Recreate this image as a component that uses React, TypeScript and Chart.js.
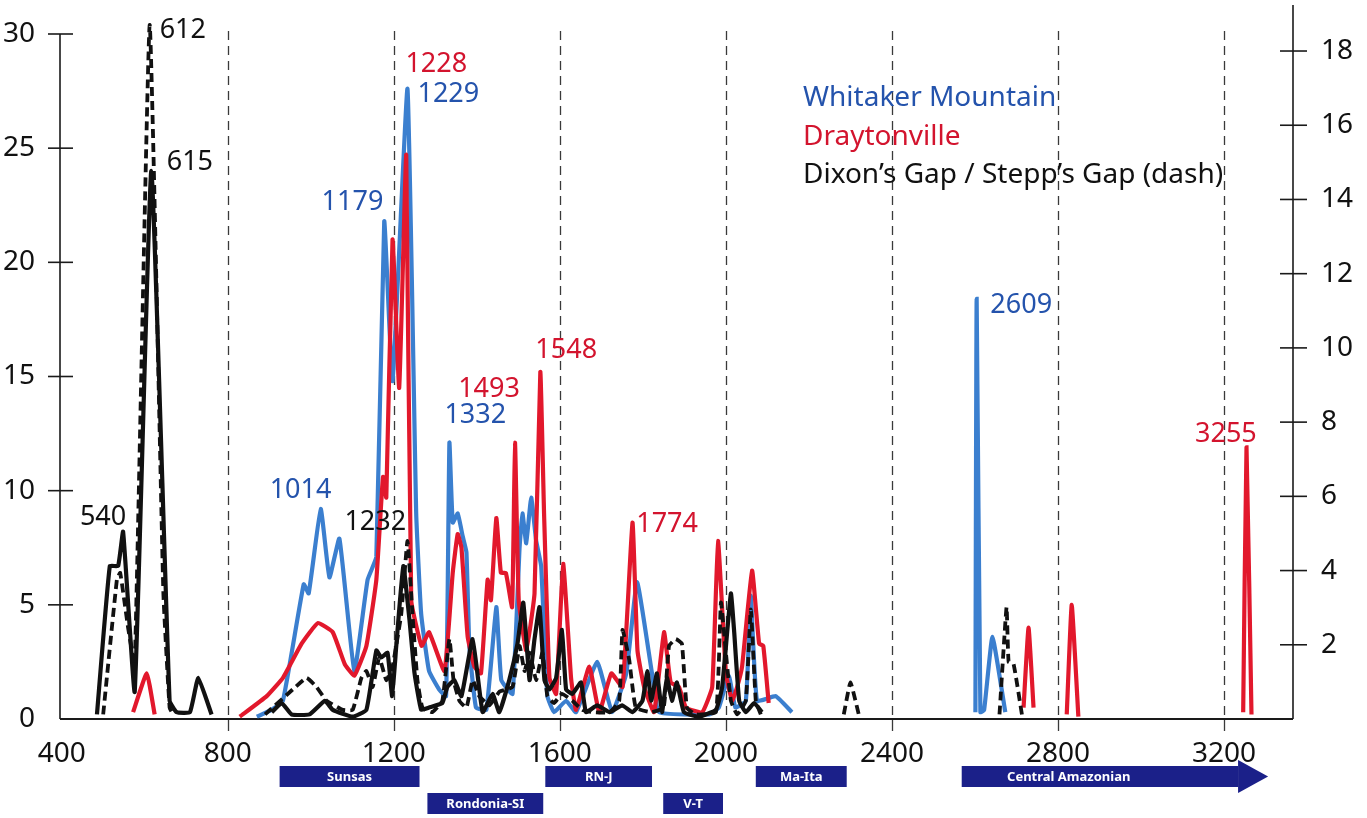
import React, { useEffect, useRef } from "react";
import { Chart, registerables } from "chart.js";

Chart.register(...registerables);

const FONT = '"Noto Sans", "Open Sans", sans-serif';

// ---- axis ticks ----
const xTicks = [400, 800, 1200, 1600, 2000, 2400, 2800, 3200];
const gridAges = [800, 1200, 1600, 2000, 2400, 2800, 3200];
const leftTicks = [0, 5, 10, 15, 20, 25, 30];
const rightTicks = [2, 4, 6, 8, 10, 12, 14, 16, 18];

// ---- series (age Ma, relative probability on left axis); null = break ----
const whitakerAge = [870, 905, 933, 983, 995, 1024, 1045, 1069, 1105, 1137, 1158, 1177, 1197, 1233, 1254, 1266, 1285, 1309, 1326, 1334, 1342, 1354, 1366, 1375, 1382, 1398, 1423, 1447, 1459, 1486, 1503, 1510, 1519, 1531, 1543, 1555, 1570, 1586, 1615, 1639, 1690, 1726, 1760, 1786, 1822, 1839, 1960, 1983, 2007, 2023, 2048, 2060, 2075, 2120, 2159, 2400, 2601, 2604, 2613, 2622, 2642, 2673];
const whitakerProb = [0.1, 0.4, 0.8, 5.9, 5.5, 9.2, 6.2, 7.9, 2.1, 6.1, 7.1, 21.8, 14.8, 27.6, 9.0, 4.6, 2.1, 1.3, 1.0, 12.1, 8.6, 9.0, 8.0, 7.3, 3.2, 0.5, 0.4, 4.9, 1.7, 1.1, 7.5, 9.0, 7.7, 9.7, 7.8, 6.7, 1.0, 0.3, 0.8, 0.3, 2.5, 0.3, 2.0, 6.0, 2.0, 0.3, 0.2, 0.5, 1.9, 0.5, 0.8, 5.4, 0.8, 1.0, 0.3, null, 0.3, 18.4, 0.3, 0.4, 3.6, 0.3];

const draytonAge = [572, 605, 624, 700, 829, 894, 933, 978, 1017, 1053, 1082, 1105, 1134, 1158, 1174, 1182, 1197, 1213, 1230, 1242, 1267, 1285, 1322, 1342, 1354, 1363, 1378, 1394, 1410, 1426, 1434, 1447, 1458, 1470, 1485, 1492, 1501, 1519, 1539, 1553, 1562, 1575, 1591, 1608, 1627, 1639, 1671, 1695, 1724, 1751, 1775, 1787, 1803, 1827, 1851, 1867, 1887, 1904, 1943, 1967, 1981, 2000, 2015, 2027, 2039, 2063, 2080, 2090, 2103, 2400, 2717, 2729, 2741, 2780, 2821, 2833, 2849, 3000, 3246, 3254, 3266];
const draytonProb = [0.3, 2.0, 0.2, null, 0.1, 1.0, 1.8, 3.3, 4.2, 3.8, 2.4, 1.9, 3.2, 6.1, 10.6, 9.7, 21.0, 14.5, 24.7, 5.2, 3.2, 3.8, 2.1, 6.4, 8.1, 7.5, 3.6, 2.3, 2.0, 6.1, 5.2, 8.8, 6.4, 6.4, 4.9, 12.1, 5.2, 3.0, 5.5, 15.2, 9.0, 1.8, 1.1, 6.8, 1.8, 0.4, 2.3, 0.3, 2.0, 1.4, 8.6, 3.0, 1.4, 0.3, 3.8, 1.6, 1.4, 0.5, 0.3, 1.4, 7.8, 2.0, 0.8, 1.4, 2.3, 6.5, 3.3, 3.2, 0.7, null, 0.5, 4.0, 0.5, null, 0.2, 5.0, 0.1, null, 0.3, 11.9, 0.2];

const dixonAge = [485, 516, 536, 548, 576, 616, 660, 677, 709, 729, 761, 830, 906, 930, 954, 997, 1034, 1053, 1101, 1134, 1158, 1170, 1185, 1196, 1206, 1223, 1238, 1250, 1266, 1285, 1317, 1329, 1346, 1363, 1390, 1414, 1438, 1454, 1478, 1498, 1512, 1527, 1539, 1551, 1563, 1575, 1591, 1605, 1615, 1630, 1651, 1663, 1690, 1720, 1750, 1775, 1799, 1811, 1820, 1834, 1846, 1858, 1870, 1882, 1899, 1935, 1976, 1991, 2012, 2020, 2032, 2048, 2068, 2087];
const dixonProb = [0.2, 6.7, 6.7, 8.2, 1.2, 24.0, 0.8, 0.3, 0.3, 1.8, 0.2, null, 0.3, 0.7, 0.2, 0.2, 0.8, 0.4, 0.1, 0.4, 3.0, 2.7, 2.9, 1.0, 3.2, 6.7, 4.3, 2.0, 0.4, 0.5, 0.7, 1.4, 1.7, 1.0, 3.5, 0.3, 1.1, 0.3, 1.7, 3.3, 5.1, 1.7, 3.5, 4.9, 1.7, 1.3, 1.8, 3.9, 1.3, 1.1, 1.6, 0.3, 0.6, 0.3, 0.6, 0.3, 0.8, 2.1, 0.8, 2.0, 0.3, 1.8, 0.8, 1.6, 0.3, 0.1, 0.4, 1.4, 5.5, 3.8, 0.8, 0.3, 0.7, 0.3];

const steppAge = [500, 533, 541, 560, 576, 612, 645, 660, 668, 780, 890, 957, 990, 1014, 1038, 1077, 1101, 1122, 1134, 1149, 1165, 1182, 1197, 1218, 1233, 1245, 1257, 1269, 1293, 1317, 1334, 1344, 1358, 1375, 1390, 1406, 1430, 1455, 1486, 1503, 1515, 1527, 1543, 1558, 1570, 1586, 1605, 1630, 1654, 1678, 1720, 1743, 1751, 1767, 1783, 1820, 1850, 1863, 1879, 1894, 1906, 1927, 1976, 1988, 2000, 2012, 2027, 2048, 2060, 2072, 2084, 2200, 2284, 2300, 2320, 2500, 2659, 2676, 2681, 2693, 2713];
const steppProb = [0.2, 6.1, 6.4, 4.0, 2.4, 30.4, 5.5, 0.5, 0.2, null, 0.2, 1.3, 1.8, 1.4, 0.8, 0.4, 0.4, 1.8, 2.1, 1.4, 2.7, 1.7, 2.3, 4.6, 7.8, 4.6, 1.7, 0.5, 0.3, 0.8, 3.5, 1.7, 0.8, 0.5, 1.7, 1.0, 0.6, 1.2, 1.4, 3.2, 2.1, 2.9, 1.7, 2.9, 1.0, 0.7, 1.1, 0.8, 0.4, 0.3, 0.3, 0.8, 3.9, 2.6, 0.5, 0.3, 0.5, 3.2, 3.5, 3.3, 0.5, 0.2, 0.3, 5.1, 2.9, 0.8, 0.2, 0.8, 4.8, 0.8, 0.2, null, 0.2, 1.6, 0.2, null, 0.2, 4.9, 2.5, 2.4, 0.2];

// ---- peak labels (text, anchor age, anchor probability, series) ----
const peakText = ["612", "615", "540", "1014", "1232", "1179", "1228", "1229", "1332", "1493", "1548", "1774", "2609", "3255"];
const peakAge = [636, 653, 444, 901, 1081, 1026, 1228, 1257, 1322, 1355, 1541, 1784, 2637, 3130];
const peakProb = [29.83, 24.05, 8.5, 9.68, 8.28, 22.3, 28.34, 27.03, 12.97, 14.1, 15.81, 8.19, 17.78, 12.13];
const peakSeries = ["k", "k", "k", "b", "k", "b", "r", "b", "b", "r", "r", "r", "b", "r"];

// ---- legend ----
const legendNames = ["Whitaker Mountain", "Draytonville", "Dixon\u2019s Gap / Stepp\u2019s Gap (dash)"];
const legendSeries = ["b", "r", "k"];

// ---- orogenic provinces ----
const provinceNames = ["Sunsas", "Rondonia-SI", "RN-J", "V-T", "Ma-Ita", "Central Amazonian"];
const provinceStart = [925, 1281, 1565, 1849, 2072, 2568];
const provinceEnd = [1262, 1560, 1822, 1993, 2291, 3306];
const provinceRow = [0, 1, 0, 1, 0, 0];
const provinceArrow = [false, false, false, false, false, true];

const LINE = { b: "#3b7fcf", r: "#e2182c", k: "#111111" };
const TEXT = { b: "#2453ac", r: "#d3142e", k: "#111111" };
const NAVY = "#1b2089";

const toPoints = (ages: number[], probs: (number | null)[]) =>
  ages.map((a, i) => ({ x: a, y: probs[i] }));

const decorPlugin = {
  id: "decor",
  beforeDatasetsDraw(chart: any) {
    const { ctx, chartArea, scales } = chart;
    const xs = scales.x;
    const yl = scales.y;
    const { left, right, top, bottom } = chartArea;
    ctx.save();
    ctx.strokeStyle = "#3a3a3a";
    ctx.lineWidth = 1.3;
    for (const g of gridAges) {
      const px = Math.round(xs.getPixelForValue(g)) + 0.5;
      ctx.setLineDash([9, 6]);
      ctx.beginPath();
      ctx.moveTo(px, top + 26);
      ctx.lineTo(px, bottom);
      ctx.stroke();
      ctx.setLineDash([]);
      ctx.beginPath();
      ctx.moveTo(px, bottom);
      ctx.lineTo(px, bottom + 12);
      ctx.stroke();
    }
    ctx.setLineDash([]);
    ctx.strokeStyle = "#1a1a1a";
    ctx.lineWidth = 1.6;
    ctx.beginPath();
    ctx.moveTo(left, yl.getPixelForValue(30));
    ctx.lineTo(left, bottom);
    ctx.stroke();
    for (const t of leftTicks) {
      if (t === 0) continue;
      const py = yl.getPixelForValue(t);
      ctx.beginPath();
      ctx.moveTo(left - 12, py);
      ctx.lineTo(left + 13, py);
      ctx.stroke();
    }
    const yr = scales.y2;
    ctx.beginPath();
    ctx.moveTo(right, top);
    ctx.lineTo(right, bottom);
    ctx.stroke();
    for (const t of rightTicks) {
      const py = yr.getPixelForValue(t);
      ctx.beginPath();
      ctx.moveTo(right - 13, py);
      ctx.lineTo(right + 14, py);
      ctx.stroke();
    }
    ctx.lineWidth = 2;
    ctx.beginPath();
    ctx.moveTo(left, bottom);
    ctx.lineTo(right, bottom);
    ctx.stroke();
    ctx.restore();
  },
  afterDatasetsDraw(chart: any) {
    const { ctx, chartArea, scales } = chart;
    const xs = scales.x;
    const yl = scales.y;
    const { left, bottom } = chartArea;
    ctx.save();
    ctx.font = `27px ${FONT}`;
    ctx.textAlign = "left";
    ctx.textBaseline = "alphabetic";
    peakText.forEach((t, i) => {
      ctx.fillStyle = (TEXT as any)[peakSeries[i]];
      ctx.fillText(t, xs.getPixelForValue(peakAge[i]), yl.getPixelForValue(peakProb[i]));
    });
    ctx.font = `28px ${FONT}`;
    legendNames.forEach((n, i) => {
      ctx.fillStyle = (TEXT as any)[legendSeries[i]];
      ctx.fillText(n, left + 743, 106 + i * 38.5);
    });
    ctx.font = `bold 13px ${FONT}`;
    ctx.textBaseline = "middle";
    ctx.textAlign = "center";
    provinceNames.forEach((n, i) => {
      const x0 = xs.getPixelForValue(provinceStart[i]);
      const x1 = xs.getPixelForValue(provinceEnd[i]);
      const y0 = bottom + (provinceRow[i] === 0 ? 47 : 74);
      const h = 21;
      ctx.fillStyle = NAVY;
      let tx = (x0 + x1) / 2;
      if (provinceArrow[i]) {
        const head = 30;
        ctx.fillRect(x0, y0, x1 - head - x0, h);
        ctx.beginPath();
        ctx.moveTo(x1 - head, y0 - 6);
        ctx.lineTo(x1, y0 + h / 2);
        ctx.lineTo(x1 - head, y0 + h + 6);
        ctx.closePath();
        ctx.fill();
        tx = x0 + 107;
      } else {
        ctx.fillRect(x0, y0, x1 - x0, h);
      }
      ctx.fillStyle = "#ffffff";
      ctx.fillText(n, tx, y0 + h / 2 + 1);
    });
    ctx.restore();
  },
};

const zeroPad = (s: any) => {
  s.paddingTop = 0;
  s.paddingBottom = 0;
  s.paddingLeft = 0;
  s.paddingRight = 0;
};

export default function App() {
  const ref = useRef<HTMLCanvasElement | null>(null);
  useEffect(() => {
    document.body.style.margin = "0";
    document.body.style.background = "#ffffff";
    const canvas = ref.current;
    if (!canvas) return;
    const tickFont = { family: FONT, size: 28 };
    const lineBase = { pointRadius: 0, tension: 0.12, spanGaps: false, borderWidth: 4.2 };
    const chart = new Chart(canvas, {
      type: "line",
      data: {
        datasets: [
          { ...lineBase, label: "Stepp's Gap", data: toPoints(steppAge, steppProb), borderColor: LINE.k, borderDash: [9, 5], borderWidth: 3.8, order: 1 },
          { ...lineBase, label: "Dixon's Gap", data: toPoints(dixonAge, dixonProb), borderColor: LINE.k, order: 2 },
          { ...lineBase, label: "Draytonville", data: toPoints(draytonAge, draytonProb), borderColor: LINE.r, order: 3 },
          { ...lineBase, label: "Whitaker Mountain", data: toPoints(whitakerAge, whitakerProb), borderColor: LINE.b, order: 4 },
        ],
      },
      options: {
        animation: false,
        responsive: false,
        devicePixelRatio: 1,
        layout: { padding: { top: 5, left: 0, right: 0, bottom: 0 } },
        plugins: { legend: { display: false }, tooltip: { enabled: false } },
        scales: {
          x: {
            type: "linear",
            min: 396,
            max: 3366,
            grid: { display: false },
            border: { display: false },
            ticks: { font: tickFont, color: "#111", padding: 10, maxRotation: 0, autoSkip: false, callback: (v: any) => String(v) },
            afterBuildTicks: (s: any) => { s.ticks = xTicks.map((v) => ({ value: v })); },
            afterFit: (s: any) => { s.height = 99; zeroPad(s); },
          },
          y: {
            type: "linear",
            position: "left",
            min: 0,
            max: 31.27,
            grid: { display: false },
            border: { display: false },
            ticks: { font: tickFont, color: "#111", padding: 17, callback: (v: any) => String(v) },
            afterBuildTicks: (s: any) => { s.ticks = leftTicks.map((v) => ({ value: v })); },
            afterFit: (s: any) => { s.width = 60; zeroPad(s); },
          },
          y2: {
            type: "linear",
            position: "right",
            min: 0,
            max: 19.24,
            grid: { display: false },
            border: { display: false },
            ticks: { font: tickFont, color: "#111", padding: 20, callback: (v: any) => String(v) },
            afterBuildTicks: (s: any) => { s.ticks = rightTicks.map((v) => ({ value: v })); },
            afterFit: (s: any) => { s.width = 74; zeroPad(s); },
          },
        },
      },
      plugins: [decorPlugin],
    } as any);
    return () => chart.destroy();
  }, []);
  return (
    <div style={{ width: 1367, height: 818, overflow: "hidden", background: "#fff" }}>
      <canvas ref={ref} width={1367} height={818} style={{ display: "block" }} />
    </div>
  );
}
